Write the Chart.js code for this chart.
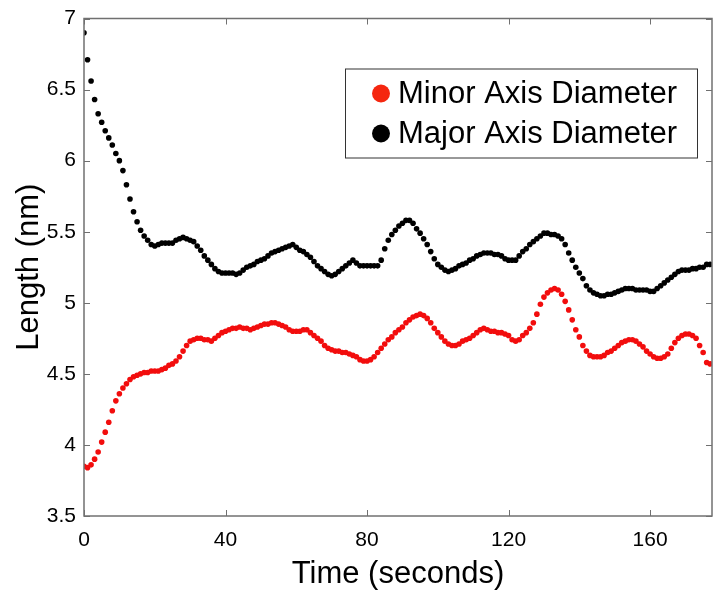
<!DOCTYPE html>
<html>
<head>
<meta charset="utf-8">
<script src="https://cdn.jsdelivr.net/npm/chart.js@4.4.1/dist/chart.umd.min.js"></script>
<style>
  html, body { margin: 0; padding: 0; background: #fff; }
  #chart { display: block; }
</style>
</head>
<body>
<canvas id="chart" width="724" height="603"></canvas>
<script>
// sampled once per second, t = 0 .. 177 s
const seriesNames = ['Minor Axis Diameter', 'Major Axis Diameter'];

const minorAxis = [
  3.85, 3.84, 3.86, 3.90, 3.95, 4.02, 4.09, 4.16, 4.24, 4.31,
  4.36, 4.40, 4.43, 4.46, 4.48, 4.49, 4.50, 4.51, 4.51, 4.52,
  4.52, 4.52, 4.53, 4.54, 4.56, 4.57, 4.59, 4.62, 4.66, 4.70,
  4.73, 4.74, 4.75, 4.75, 4.74, 4.74, 4.73, 4.75, 4.77, 4.79,
  4.80, 4.81, 4.82, 4.82, 4.83, 4.82, 4.82, 4.81, 4.82, 4.83,
  4.84, 4.85, 4.85, 4.86, 4.86, 4.85, 4.84, 4.83, 4.81, 4.80,
  4.80, 4.80, 4.81, 4.81, 4.79, 4.77, 4.75, 4.73, 4.70, 4.68,
  4.67, 4.66, 4.66, 4.65, 4.65, 4.64, 4.63, 4.62, 4.60, 4.59,
  4.59, 4.60, 4.62, 4.65, 4.68, 4.71, 4.74, 4.76, 4.79, 4.81,
  4.83, 4.86, 4.88, 4.90, 4.91, 4.92, 4.91, 4.89, 4.86, 4.82,
  4.79, 4.76, 4.73, 4.71, 4.70, 4.70, 4.71, 4.73, 4.74, 4.75,
  4.77, 4.79, 4.81, 4.82, 4.81, 4.80, 4.80, 4.79, 4.79, 4.78,
  4.77, 4.74, 4.73, 4.74, 4.77, 4.79, 4.82, 4.86, 4.92, 4.99,
  5.04, 5.07, 5.09, 5.10, 5.09, 5.06, 5.01, 4.95, 4.88, 4.81,
  4.76, 4.70, 4.66, 4.63, 4.62, 4.62, 4.62, 4.63, 4.65, 4.66,
  4.68, 4.70, 4.72, 4.73, 4.74, 4.74, 4.73, 4.71, 4.69, 4.66,
  4.64, 4.62, 4.61, 4.61, 4.62, 4.64, 4.68, 4.72, 4.75, 4.77,
  4.78, 4.78, 4.77, 4.75, 4.70, 4.65, 4.58, 4.57
];

const majorAxis = [
  6.90, 6.71, 6.56, 6.43, 6.33, 6.27, 6.21, 6.16, 6.11, 6.05,
  6.00, 5.93, 5.83, 5.73, 5.64, 5.57, 5.51, 5.47, 5.44, 5.41,
  5.40, 5.41, 5.42, 5.42, 5.42, 5.42, 5.44, 5.45, 5.46, 5.45,
  5.44, 5.43, 5.40, 5.37, 5.33, 5.30, 5.27, 5.24, 5.22, 5.21,
  5.21, 5.21, 5.21, 5.20, 5.21, 5.23, 5.25, 5.26, 5.27, 5.29,
  5.30, 5.31, 5.33, 5.35, 5.36, 5.37, 5.38, 5.39, 5.40, 5.41,
  5.39, 5.37, 5.36, 5.34, 5.32, 5.29, 5.26, 5.24, 5.22, 5.20,
  5.19, 5.20, 5.22, 5.24, 5.26, 5.28, 5.30, 5.28, 5.26, 5.26,
  5.26, 5.26, 5.26, 5.26, 5.30, 5.38, 5.44, 5.48, 5.51, 5.54,
  5.56, 5.58, 5.58, 5.56, 5.52, 5.49, 5.45, 5.41, 5.36, 5.31,
  5.27, 5.25, 5.23, 5.22, 5.23, 5.24, 5.26, 5.27, 5.28, 5.30,
  5.31, 5.33, 5.34, 5.35, 5.35, 5.35, 5.34, 5.34, 5.33, 5.31,
  5.30, 5.30, 5.30, 5.33, 5.36, 5.38, 5.41, 5.43, 5.45, 5.47,
  5.49, 5.49, 5.48, 5.48, 5.47, 5.45, 5.41, 5.35, 5.30, 5.25,
  5.21, 5.17, 5.12, 5.09, 5.07, 5.06, 5.05, 5.05, 5.06, 5.06,
  5.07, 5.08, 5.09, 5.10, 5.10, 5.10, 5.09, 5.09, 5.09, 5.09,
  5.08, 5.08, 5.10, 5.12, 5.14, 5.16, 5.18, 5.20, 5.22, 5.23,
  5.23, 5.23, 5.24, 5.24, 5.25, 5.25, 5.27, 5.27
];

const xTicks = [0, 40, 80, 120, 160];
const yTicks = [3.5, 4, 4.5, 5, 5.5, 6, 6.5, 7];

const toPoints = (arr) => arr.map((v, i) => ({ x: i, y: v }));

// box round the plot, matlab style inward ticks on all four sides, and the legend box
const framePlugin = {
  id: 'frame',
  afterDraw(chart) {
    const { ctx, chartArea: a, scales } = chart;
    ctx.save();
    ctx.strokeStyle = '#707070';
    ctx.lineWidth = 1.5;
    ctx.strokeRect(a.left, a.top, a.right - a.left, a.bottom - a.top);
    ctx.beginPath();
    scales.x.ticks.forEach((t) => {
      const px = Math.round(scales.x.getPixelForValue(t.value)) + 0.5;
      ctx.moveTo(px, a.bottom); ctx.lineTo(px, a.bottom - 6);
      ctx.moveTo(px, a.top); ctx.lineTo(px, a.top + 6);
    });
    scales.y.ticks.forEach((t) => {
      const py = Math.round(scales.y.getPixelForValue(t.value)) + 0.5;
      ctx.moveTo(a.left, py); ctx.lineTo(a.left + 6, py);
      ctx.moveTo(a.right, py); ctx.lineTo(a.right - 6, py);
    });
    ctx.lineWidth = 1;
    ctx.stroke();

    // legend
    const bx = a.right - 367, by = a.top + 50, bw = 352, bh = 89;
    ctx.fillStyle = '#fff';
    ctx.fillRect(bx, by, bw, bh);
    ctx.strokeStyle = '#333';
    ctx.lineWidth = 1;
    ctx.strokeRect(bx + 0.5, by + 0.5, bw, bh);
    ctx.font = '31px "Liberation Sans", Arial, sans-serif';
    ctx.textBaseline = 'middle';
    chart.data.datasets.forEach((ds, i) => {
      const cy = by + 25 + i * 40;
      ctx.fillStyle = ds.legendColor;
      ctx.beginPath();
      ctx.arc(bx + 36, cy, 9, 0, Math.PI * 2);
      ctx.fill();
      ctx.fillStyle = '#000';
      ctx.fillText(ds.label, bx + 53, cy + 1);
    });
    ctx.restore();
  },
};

new Chart(document.getElementById('chart'), {
  type: 'scatter',
  data: {
    datasets: [
      {
        label: seriesNames[0],
        data: toPoints(minorAxis),
        backgroundColor: '#f20d0d',
        legendColor: '#f5260f',
        pointRadius: 2.8,
        pointBorderWidth: 0,
      },
      {
        label: seriesNames[1],
        data: toPoints(majorAxis),
        backgroundColor: '#000',
        legendColor: '#000',
        pointRadius: 2.8,
        pointBorderWidth: 0,
      },
    ],
  },
  options: {
    responsive: false,
    animation: false,
    layout: { padding: { top: 16, right: 12, bottom: 0, left: 0 } },
    plugins: { legend: { display: false }, tooltip: { enabled: false } },
    scales: {
      x: {
        type: 'linear',
        min: 0,
        max: 177.5,
        afterFit: (s) => { s.height = 87; },
        afterBuildTicks: (s) => { s.ticks = xTicks.map((v) => ({ value: v })); },
        grid: { display: false, drawTicks: false },
        border: { display: false },
        ticks: {
          color: '#000',
          padding: 12,
          autoSkip: false,
          maxRotation: 0,
          callback: (v) => String(v),
          font: { family: '"Liberation Sans", Arial, sans-serif', size: 21 },
        },
        title: {
          display: true,
          text: 'Time (seconds)',
          color: '#000',
          padding: { top: 0, bottom: 10 },
          font: { family: '"Liberation Sans", Arial, sans-serif', size: 31 },
        },
      },
      y: {
        min: 3.5,
        max: 7,
        afterFit: (s) => { s.width = 84; },
        afterBuildTicks: (s) => { s.ticks = yTicks.map((v) => ({ value: v })); },
        grid: { display: false, drawTicks: false },
        border: { display: false },
        ticks: {
          color: '#000',
          padding: 8,
          autoSkip: false,
          callback: (v) => String(v),
          font: { family: '"Liberation Sans", Arial, sans-serif', size: 21, lineHeight: 1 },
        },
        title: {
          display: true,
          text: 'Length (nm)',
          color: '#000',
          padding: { top: 11, bottom: 0 },
          font: { family: '"Liberation Sans", Arial, sans-serif', size: 31 },
        },
      },
    },
  },
  plugins: [framePlugin],
});
</script>
</body>
</html>
